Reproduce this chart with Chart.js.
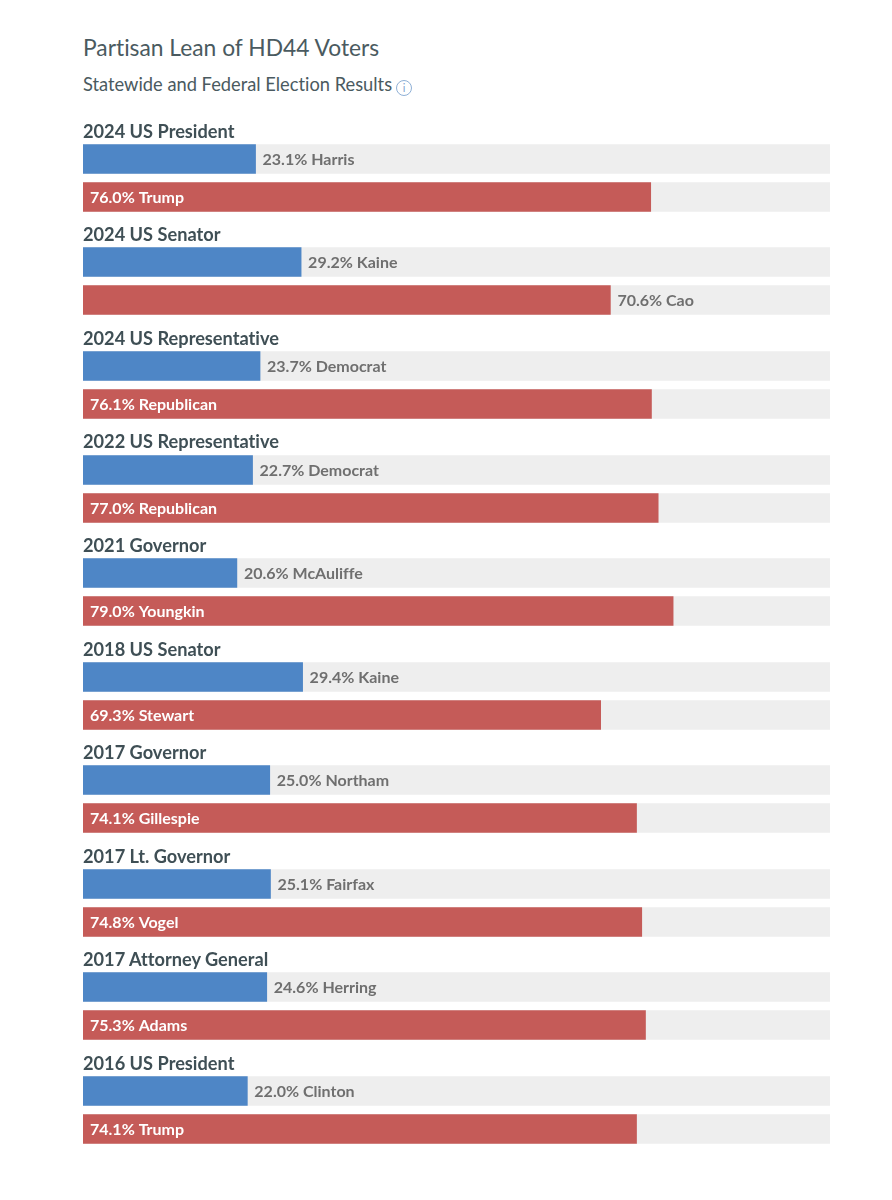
<!DOCTYPE html>
<html>
<head>
<meta charset="utf-8">
<title>Partisan Lean of HD44 Voters</title>
<script src="https://cdn.jsdelivr.net/npm/chart.js@4"></script>
<style>
    body { margin: 0; background: #fff; font-family: Lato, sans-serif; font-variant-ligatures: none; }
    #wrap { position: relative; width: 892px; height: 1200px; overflow: hidden; }
    h1 { position: absolute; left: 83px; top: 32px; margin: 0; font-size: 22.8px; line-height: 30px; font-weight: 400; color: #4a5a60; }
    h2 { position: absolute; left: 83px; top: 71px; margin: 0; font-size: 18.3px; line-height: 26px; font-weight: 400; color: #4a5a60; }
    .info { display: inline-block; width: 14px; height: 14px; margin-left: 4px; border: 1.5px solid #8fb0d6; border-radius: 50%; font-size: 11px; line-height: 14px; text-align: center; color: #7fa4cf; vertical-align: -1px; }
    #plots { position: absolute; left: 83px; top: 112.35px; width: 747px; }
    .group { height: 103.55px; }
    .group h3 { position: relative; top: 5.5px; margin: 0; height: 27.55px; font-size: 18.2px; line-height: 27.55px; font-weight: 700; color: #3f4f55; }
    canvas { display: block; }
</style>
</head>
<body>
<div id="wrap">
    <h1>Partisan Lean of HD44 Voters</h1>
    <h2>Statewide and Federal Election Results<span class="info">i</span></h2>
    <div id="plots"></div>
</div>
<script>
const contests = ['2024 US President', '2024 US Senator', '2024 US Representative', '2022 US Representative', '2021 Governor', '2018 US Senator', '2017 Governor', '2017 Lt. Governor', '2017 Attorney General', '2016 US President'];
const demNames = ['Harris', 'Kaine', 'Democrat', 'Democrat', 'McAuliffe', 'Kaine', 'Northam', 'Fairfax', 'Herring', 'Clinton'];
const demValues = [23.1, 29.2, 23.7, 22.7, 20.6, 29.4, 25.0, 25.1, 24.6, 22.0];
const repNames = ['Trump', 'Cao', 'Republican', 'Republican', 'Youngkin', 'Stewart', 'Gillespie', 'Vogel', 'Adams', 'Trump'];
const repValues = [76.0, 70.6, 76.1, 77.0, 79.0, 69.3, 74.1, 74.8, 75.3, 74.1];
const repLabelInside = [true, false, true, true, true, true, true, true, true, true];

const axisMax = 100;
const plots = document.getElementById('plots');

// writes "23.1% Harris" next to or inside each bar
const barLabels = {
    id: 'barLabels',
    afterDatasetsDraw(chart) {
        const ctx = chart.ctx;
        const meta = chart.getDatasetMeta(1);
        const info = chart.options.plugins.barLabels;
        ctx.save();
        ctx.font = 'bold 16px Lato';
        ctx.textBaseline = 'middle';
        meta.data.forEach((bar, i) => {
            const inside = info.inside[i];
            ctx.fillStyle = inside ? '#ffffff' : '#6f6f6f';
            const x = inside ? chart.scales.x.left + 7 : bar.x + 7;
            ctx.fillText(info.texts[i], x, bar.y + 1);
        });
        ctx.restore();
    }
};

contests.forEach((contest, i) => {
    const group = document.createElement('div');
    group.className = 'group';
    const heading = document.createElement('h3');
    heading.innerText = contest;
    group.appendChild(heading);
    const canvas = document.createElement('canvas');
    canvas.width = 747;
    canvas.height = 76;
    group.appendChild(canvas);
    plots.appendChild(group);

    new Chart(canvas.getContext('2d'), {
        type: 'bar',
        data: {
            labels: [demNames[i], repNames[i]],
            datasets: [
                { data: [axisMax, axisMax], backgroundColor: '#eeeeee', order: 2 },
                { data: [demValues[i], repValues[i]], backgroundColor: ['#4e86c6', '#c55b58'], order: 1 }
            ]
        },
        options: {
            indexAxis: 'y',
            responsive: false,
            animation: false,
            events: [],
            datasets: { bar: { grouped: false, barThickness: 28.6 } },
            scales: {
                x: { display: false, min: 0, max: axisMax },
                y: { display: false }
            },
            plugins: {
                legend: { display: false },
                tooltip: { enabled: false },
                barLabels: {
                    texts: [demValues[i].toFixed(1) + '% ' + demNames[i], repValues[i].toFixed(1) + '% ' + repNames[i]],
                    inside: [false, repLabelInside[i]]
                }
            }
        },
        plugins: [barLabels]
    });
});
</script>
</body>
</html>
